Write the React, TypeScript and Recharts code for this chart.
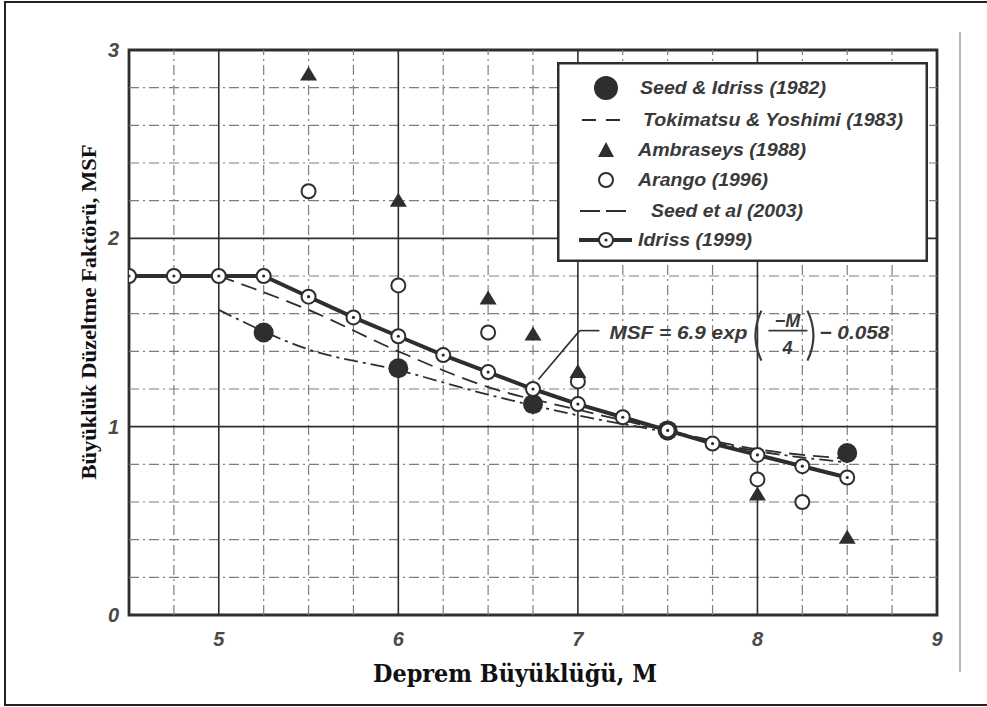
import {
  ComposedChart,
  Line,
  Scatter,
  XAxis,
  YAxis,
  ReferenceLine,
  ReferenceArea,
  ReferenceDot,
  Legend,
  Label,
} from "recharts";

// Idriss (1999) curve with markers
const idrissM = [4.5, 4.75, 5, 5.25, 5.5, 5.75, 6, 6.25, 6.5, 6.75, 7, 7.25, 7.5, 7.75, 8, 8.25, 8.5];
const idrissMsf = [1.8, 1.8, 1.8, 1.8, 1.69, 1.58, 1.48, 1.38, 1.29, 1.2, 1.12, 1.05, 0.98, 0.91, 0.85, 0.79, 0.73];

// Seed & Idriss (1982) filled dots
const seedIdrissM = [5.25, 6, 6.75, 7.5, 8.5];
const seedIdrissMsf = [1.5, 1.31, 1.12, 0.98, 0.86];

// Tokimatsu & Yoshimi (1983) dashed curve
const tokimatsuM = [5, 5.5, 6, 6.5, 7, 7.5, 8, 8.5];
const tokimatsuMsf = [1.8, 1.62, 1.4, 1.21, 1.09, 0.98, 0.88, 0.83];

// Seed et al (2003) dash-dot curve
const seed2003M = [5, 5.5, 6, 6.5, 7, 7.5, 8, 8.5];
const seed2003Msf = [1.62, 1.41, 1.3, 1.17, 1.06, 0.97, 0.87, 0.81];

// Ambraseys (1988) triangles
const ambraseysM = [5.5, 6, 6.5, 6.75, 7, 8, 8.5];
const ambraseysMsf = [2.87, 2.2, 1.68, 1.49, 1.29, 0.64, 0.41];

// Arango (1996) open circles
const arangoM = [5.5, 6, 6.5, 7, 8, 8.25];
const arangoMsf = [2.25, 1.75, 1.5, 1.24, 0.72, 0.6];

const xTicks = [5, 6, 7, 8, 9];
const yTicks = [0, 1, 2, 3];
const xMinor = [4.75, 5.25, 5.5, 5.75, 6.25, 6.5, 6.75, 7.25, 7.5, 7.75, 8.25, 8.5, 8.75];
const xMajor = [5, 6, 7, 8];
const yMinor = [0.2, 0.4, 0.6, 0.8, 1.2, 1.4, 1.6, 1.8, 2.2, 2.4, 2.6, 2.8];
const yMajor = [1, 2];

const toRows = (xs: number[], ys: number[]) => xs.map((x, i) => ({ x, y: ys[i] }));

const INK = "#2e2e2e";
const GRID = "#7e7e7e";
const TICK_FONT = "'Liberation Sans', Arial, sans-serif";

function IdrissDot(props: any) {
  const { cx, cy } = props;
  if (cx == null || cy == null) return null;
  return (
    <g>
      <circle cx={cx} cy={cy} r={7} fill="#fff" stroke={INK} strokeWidth={2} />
      <circle cx={cx} cy={cy} r={1.6} fill={INK} />
    </g>
  );
}

function FilledDot(props: any) {
  const { cx, cy } = props;
  return <circle cx={cx} cy={cy} r={10} fill={INK} />;
}

function OpenDot(props: any) {
  const { cx, cy } = props;
  return <circle cx={cx} cy={cy} r={7} fill="#fff" stroke={INK} strokeWidth={2} />;
}

function Triangle(props: any) {
  const { cx, cy } = props;
  return (
    <polygon
      points={`${cx},${cy - 8} ${cx - 8.5},${cy + 6} ${cx + 8.5},${cy + 6}`}
      fill={INK}
    />
  );
}

function AxisTick(props: any) {
  const { x, y, payload, textAnchor } = props;
  return (
    <text
      x={x}
      y={y}
      textAnchor={textAnchor}
      dominantBaseline="central"
      style={{ fill: "#4a4a4a", fontFamily: TICK_FONT, fontWeight: 700, fontStyle: "italic", fontSize: 20 }}
    >
      {payload.value}
    </text>
  );
}

function Formula(props: any) {
  const { cx, cy } = props;
  const style = {
    fontFamily: TICK_FONT,
    fontWeight: 700,
    fontStyle: "italic",
    fill: "#3a3a3a",
  };
  return (
    <g>
      <text x={cx + 10} y={cy + 2} fontSize={19} textLength={138} lengthAdjust="spacingAndGlyphs" dominantBaseline="central" style={style}>
        MSF = 6.9 exp
      </text>
      <path d={`M ${cx + 162} ${cy - 20} Q ${cx + 150} ${cy + 5} ${cx + 162} ${cy + 30}`} fill="none" stroke="#3a3a3a" strokeWidth={2.2} />
      <text x={cx + 188} y={cy - 10} fontSize={18} textAnchor="middle" dominantBaseline="central" style={style}>
        −M
      </text>
      <line x1={cx + 169} x2={cx + 208} y1={cy} y2={cy} stroke="#3a3a3a" strokeWidth={1.8} />
      <text x={cx + 188} y={cy + 17} fontSize={18} textAnchor="middle" dominantBaseline="central" style={style}>
        4
      </text>
      <path d={`M ${cx + 208} ${cy - 20} Q ${cx + 220} ${cy + 5} ${cx + 208} ${cy + 30}`} fill="none" stroke="#3a3a3a" strokeWidth={2.2} />
      <text x={cx + 220} y={cy + 2} fontSize={19} textLength={70} lengthAdjust="spacingAndGlyphs" dominantBaseline="central" style={style}>
        − 0.058
      </text>
    </g>
  );
}

function LegendBox() {
  const textStyle = {
    fontFamily: TICK_FONT,
    fontWeight: 700,
    fontStyle: "italic",
    fontSize: 18,
    fill: "#3a3a3a",
  } as const;
  const adj = "spacingAndGlyphs";
  return (
    <svg width={371} height={200} style={{ display: "block" }}>
      <rect x={1.25} y={1.25} width={368.5} height={197.5} fill="#fff" stroke={INK} strokeWidth={2.5} />
      <circle cx={49} cy={26} r={12} fill={INK} />
      <text x={83} y={26} dominantBaseline="central" textLength={186} lengthAdjust={adj} style={textStyle}>Seed &amp; Idriss (1982)</text>

      <line x1={25} x2={63} y1={58} y2={58} stroke={INK} strokeWidth={1.8} strokeDasharray="14 10" />
      <text x={86} y={58} dominantBaseline="central" textLength={260} lengthAdjust={adj} style={textStyle}>Tokimatsu &amp; Yoshimi (1983)</text>

      <polygon points="49,80 41,95 57,95" fill={INK} />
      <text x={81} y={88} dominantBaseline="central" textLength={168} lengthAdjust={adj} style={textStyle}>Ambraseys (1988)</text>

      <circle cx={49} cy={118} r={7} fill="#fff" stroke={INK} strokeWidth={2} />
      <text x={81} y={118} dominantBaseline="central" textLength={130} lengthAdjust={adj} style={textStyle}>Arango (1996)</text>

      <line x1={23} x2={72} y1={149} y2={149} stroke={INK} strokeWidth={1.8} strokeDasharray="20 6" />
      <text x={94} y={149} dominantBaseline="central" textLength={152} lengthAdjust={adj} style={textStyle}>Seed et al (2003)</text>

      <line x1={22} x2={75} y1={178} y2={178} stroke={INK} strokeWidth={4} />
      <circle cx={49} cy={178} r={7} fill="#fff" stroke={INK} strokeWidth={2} />
      <circle cx={49} cy={178} r={1.6} fill={INK} />
      <text x={81} y={178} dominantBaseline="central" textLength={114} lengthAdjust={adj} style={textStyle}>Idriss (1999)</text>
    </svg>
  );
}

export default function App() {
  return (
    <div style={{ position: "absolute", left: 0, top: 0, width: 987, height: 707, overflow: "hidden", background: "#fff" }}>
      <div style={{ position: "absolute", left: 4, top: 1, width: 1000, height: 701, border: "2px solid #222" }} />
      <div style={{ position: "absolute", left: 959, top: 32, width: 2, height: 640, background: "#b5b5b5" }} />
      <div style={{ position: "absolute", left: 0, top: 0 }}>
        <ComposedChart
          width={987}
          height={707}
          margin={{ top: 50, right: 50, bottom: 52, left: 89 }}
        >
          <XAxis
            dataKey="x"
            type="number"
            domain={[4.5, 9]}
            ticks={xTicks}
            allowDataOverflow
            axisLine={false}
            tickLine={false}
            tickMargin={18}
            height={40}
            tick={<AxisTick />}
          >
            <Label
              content={() => (
                <text
                  x={515}
                  y={673}
                  textAnchor="middle"
                  dominantBaseline="central"
                  textLength={284}
                  lengthAdjust="spacingAndGlyphs"
                  style={{ fontFamily: "'DejaVu Serif', serif", fontWeight: 700, fontSize: 25, fill: "#111" }}
                >
                  Deprem Büyüklüğü, M
                </text>
              )}
            />
          </XAxis>
          <YAxis
            type="number"
            domain={[0, 3]}
            ticks={yTicks}
            allowDataOverflow
            axisLine={false}
            tickLine={false}
            tickMargin={4}
            width={40}
            tick={<AxisTick />}
          >
            <Label
              content={() => (
                <text
                  transform="translate(88,312) rotate(-90)"
                  textAnchor="middle"
                  dominantBaseline="central"
                  textLength={335}
                  lengthAdjust="spacingAndGlyphs"
                  style={{ fontFamily: "'Liberation Serif', 'Times New Roman', serif", fontWeight: 700, fontSize: 22, fill: "#111" }}
                >
                  Büyüklük Düzeltme Faktörü, MSF
                </text>
              )}
            />
          </YAxis>

          {xMinor.map((v) => (
            <ReferenceLine key={`xm${v}`} x={v} stroke={GRID} strokeWidth={1.2} strokeDasharray="10 4 2 4" />
          ))}
          {yMinor.map((v) => (
            <ReferenceLine key={`ym${v}`} y={v} stroke={GRID} strokeWidth={1.2} strokeDasharray="10 4 2 4" />
          ))}
          {xMajor.map((v) => (
            <ReferenceLine key={`xM${v}`} x={v} stroke={INK} strokeWidth={1.6} />
          ))}
          {yMajor.map((v) => (
            <ReferenceLine key={`yM${v}`} y={v} stroke={INK} strokeWidth={1.6} />
          ))}
          <ReferenceArea x1={4.5} x2={9} y1={0} y2={3} fill="none" stroke={INK} strokeWidth={2.8} fillOpacity={0} />

          <Legend
            layout="vertical"
            align="center"
            verticalAlign="middle"
            content={() => <LegendBox />}
            wrapperStyle={{ left: 557, top: 62, width: 371, height: 200 }}
          />

          <Line
            data={toRows(seed2003M, seed2003Msf)}
            dataKey="y"
            type="monotone"
            stroke={INK}
            strokeWidth={1.8}
            strokeDasharray="14 5 3 5"
            dot={false}
            activeDot={false}
            legendType="none"
            isAnimationActive={false}
          />
          <Line
            data={toRows(tokimatsuM, tokimatsuMsf)}
            dataKey="y"
            type="monotone"
            stroke={INK}
            strokeWidth={1.8}
            strokeDasharray="16 8"
            dot={false}
            activeDot={false}
            legendType="none"
            isAnimationActive={false}
          />

          <ReferenceLine segment={[{ x: 6.78, y: 1.25 }, { x: 7.01, y: 1.51 }]} stroke={INK} strokeWidth={1.6} />
          <ReferenceLine segment={[{ x: 7.01, y: 1.51 }, { x: 7.12, y: 1.51 }]} stroke={INK} strokeWidth={1.6} />
          <ReferenceDot x={7.12} y={1.51} r={0} shape={(p: any) => <Formula {...p} />} />

          <Line
            data={toRows(idrissM, idrissMsf)}
            dataKey="y"
            type="linear"
            stroke={INK}
            strokeWidth={4}
            dot={<IdrissDot />}
            activeDot={false}
            legendType="none"
            isAnimationActive={false}
          />
          <Scatter data={toRows(arangoM, arangoMsf)} dataKey="y" shape={<OpenDot />} legendType="none" isAnimationActive={false} />
          <Scatter data={toRows(ambraseysM, ambraseysMsf)} dataKey="y" shape={<Triangle />} legendType="none" isAnimationActive={false} />
          <Scatter data={toRows(seedIdrissM, seedIdrissMsf)} dataKey="y" shape={<FilledDot />} legendType="none" isAnimationActive={false} />
        </ComposedChart>
      </div>
    </div>
  );
}
